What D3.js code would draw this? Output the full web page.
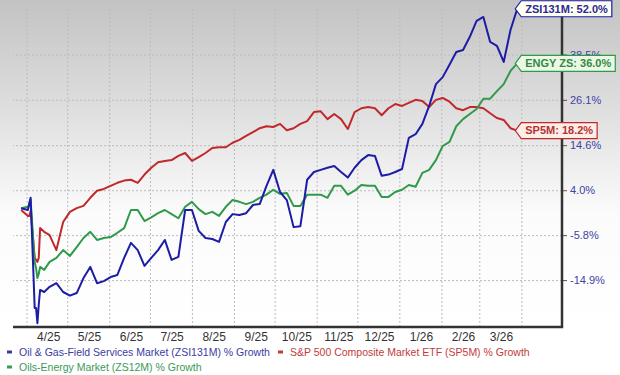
<!DOCTYPE html>
<html>
<head>
<meta charset="utf-8">
<script src="https://cdn.jsdelivr.net/npm/d3@7"></script>
<style>
  html, body { margin: 0; padding: 0; background: #fff; }
  svg { display: block; font-family: "Liberation Sans", Arial, sans-serif; }
</style>
</head>
<body>
<svg id="chart" width="620" height="375"></svg>
<script>
// ---- data (% growth) ----
const dates = [
  "2025-03-28","2025-04-02","2025-04-03","2025-04-04","2025-04-07","2025-04-08","2025-04-09","2025-04-10",
  "2025-04-11","2025-04-14","2025-04-18","2025-04-23","2025-04-28","2025-05-03","2025-05-08","2025-05-13",
  "2025-05-18","2025-05-23","2025-05-28","2025-06-02","2025-06-07","2025-06-12","2025-06-17","2025-06-22",
  "2025-06-27","2025-07-02","2025-07-07","2025-07-12","2025-07-17","2025-07-22","2025-07-27","2025-08-01",
  "2025-08-06","2025-08-11","2025-08-16","2025-08-21","2025-08-26","2025-08-31","2025-09-05","2025-09-10",
  "2025-09-15","2025-09-20","2025-09-25","2025-09-30","2025-10-05","2025-10-10","2025-10-15","2025-10-20",
  "2025-10-25","2025-10-30","2025-11-04","2025-11-09","2025-11-14","2025-11-19","2025-11-24","2025-11-29",
  "2025-12-04","2025-12-09","2025-12-14","2025-12-19","2025-12-24","2025-12-29","2026-01-03","2026-01-08",
  "2026-01-13","2026-01-18","2026-01-23","2026-01-28","2026-02-02","2026-02-07","2026-02-12","2026-02-17",
  "2026-02-22","2026-02-27","2026-03-04","2026-03-09","2026-03-14","2026-03-19","2026-03-24","2026-03-29"
];

const oilGas = [ // ZSI131M
  0.0, -0.4, 1.1, 2.3, -20.2, -20.2, -23.0, -19.6,
  -16.8, -17.2, -16.2, -15.5, -17.2, -17.9, -17.4, -14.5,
  -12.3, -15.5, -15.1, -14.3, -13.9, -10.5, -7.4, -8.9,
  -12.1, -10.5, -8.9, -6.8, -10.9, -10.3, -0.4, -0.4,
  -4.9, -6.4, -6.6, -7.2, -3.0, -1.3, -1.5, -1.1,
  0.7, 0.9, 5.0, 8.7, 3.6, 1.8, -4.1, -3.9,
  6.4, 8.2, 8.7, 9.2, 9.6, 8.2, 6.9, 9.2,
  11.0, 12.2, 12.0, 7.3, 7.6, 8.2, 8.9, 16.4,
  17.3, 19.9, 24.5, 30.3, 32.2, 35.6, 39.2, 39.8,
  43.6, 48.3, 49.5, 42.1, 41.0, 36.4, 45.6, 52.0
];

const sp500 = [ // SP5M
  -0.4, -1.7, -1.7, -0.6, -10.5, -10.9, -11.3, -10.5,
  -4.3, -5.1, -5.8, -8.9, -3.0, -0.8, 0.0, 0.5,
  2.3, 3.9, 4.3, 5.0, 5.7, 6.2, 6.4, 5.7,
  7.6, 9.2, 10.5, 10.8, 11.0, 12.0, 12.7, 10.8,
  11.7, 12.7, 13.9, 14.1, 14.1, 15.2, 15.9, 16.9,
  17.8, 18.8, 19.3, 19.1, 19.9, 18.3, 18.8, 19.9,
  20.6, 22.9, 23.1, 21.1, 22.4, 21.1, 18.6, 22.9,
  23.9, 24.2, 23.9, 22.1, 23.9, 25.0, 24.5, 25.3,
  26.1, 25.8, 24.2, 26.1, 26.6, 25.6, 23.9, 23.4,
  24.2, 24.2, 23.9, 22.6, 21.4, 20.9, 18.8, 18.2
];

const oilsEnergy = [ // ZS12M
  0.0, 0.3, 0.5, 1.8, -11.3, -12.5, -14.5, -13.7,
  -12.3, -12.9, -11.3, -10.5, -8.9, -10.1, -8.3, -6.4,
  -5.1, -6.8, -6.4, -6.2, -5.3, -4.3, -0.4, -0.4,
  -2.8, -2.0, -1.1, -0.4, -1.3, -2.2, 0.3, 1.4,
  -0.2, -1.3, -0.8, -1.7, 0.3, 1.8, 1.4, 0.9,
  1.4, 2.3, 3.0, 4.1, 3.2, 3.4, 0.5, 0.5,
  3.0, 3.0, 3.0, 2.3, 5.0, 5.0, 3.0, 3.9,
  5.2, 5.0, 5.0, 2.5, 2.5, 3.6, 4.1, 5.2,
  4.8, 8.0, 8.7, 11.0, 14.4, 15.4, 19.3, 21.1,
  22.4, 23.7, 26.4, 26.4, 28.4, 30.3, 33.9, 36.0
];

const yTicks = [38.5, 26.1, 14.6, 4.0, -5.8, -14.9];
const xTickLabels = ["4/25","5/25","6/25","7/25","8/25","9/25","10/25","11/25","12/25","1/26","2/26","3/26"];
const tagNames = ["SP5M", "ENGY ZS", "ZSI131M"];
const legendLabels = [
  "Oil & Gas-Field Services Market (ZSI131M) % Growth",
  "S&P 500 Composite Market ETF (SP5M) % Growth",
  "Oils-Energy Market (ZS12M) % Growth"
];

// ---- setup ----
const svg = d3.select("#chart");
const parse = d3.timeParse("%Y-%m-%d");
const L = 13, R = 562, T = 8, B = 327;  // plot box
const BASE = 132;                       // zacks log scale is on (BASE + growth)

const x = d3.scaleTime().domain([parse("2025-03-22"), parse("2026-05-01")]).range([L, R]);
const y = d3.scaleLog().domain([BASE - 23.7, BASE + 54.7]).range([B, 0]);
const yv = v => y(BASE + v);

// background gradient (grey on top, fading to white)
const defs = svg.append("defs");
const grad = defs.append("linearGradient").attr("id", "bg").attr("x1", 0).attr("y1", 0).attr("x2", 0).attr("y2", 1);
grad.append("stop").attr("offset", "0%").attr("stop-color", "#c3c3c3");
grad.append("stop").attr("offset", "35%").attr("stop-color", "#e0e0e0");
grad.append("stop").attr("offset", "65%").attr("stop-color", "#fbfbfb");
grad.append("stop").attr("offset", "100%").attr("stop-color", "#ffffff");
svg.append("rect").attr("width", 620).attr("height", B).attr("fill", "url(#bg)");

// ---- grid ----
const monthStarts = d3.timeMonth.range(parse("2025-04-01"), parse("2026-04-02"));
const vGrid = svg.append("g").attr("transform", `translate(0,${B})`)
  .call(d3.axisBottom(x).tickValues(monthStarts).tickSize(-(B - T)).tickFormat(""));
const hGrid = svg.append("g").attr("transform", `translate(${R},0)`)
  .call(d3.axisLeft(y).tickValues(yTicks.map(v => BASE + v)).tickSize(R - L).tickFormat(""));
[vGrid, hGrid].forEach(g => {
  g.select(".domain").remove();
  g.selectAll("line").attr("stroke", "#bcbcbc").attr("stroke-dasharray", "2,2");
});

// ---- lines ----
const series = [
  { vals: sp500, color: "#c0282b", tagFill: "#fdeee8", tagText: "#b83232" },
  { vals: oilsEnergy, color: "#2e9a4a", tagFill: "#ebf8e6", tagText: "#2f8a40" },
  { vals: oilGas, color: "#1c1ca6", tagFill: "#fffff2", tagText: "#2a2a96" }
];
const line = d3.line().x(d => x(d.date)).y(d => yv(d.v));
series.forEach(s => {
  s.pts = dates.map((d, i) => ({ date: parse(d), v: s.vals[i] }));
  svg.append("path").datum(s.pts)
    .attr("fill", "none").attr("stroke", s.color).attr("stroke-width", 2)
    .attr("stroke-linejoin", "round").attr("d", line);
});

// ---- axes ----
const labelDates = monthStarts.slice(0, 12).map(d => d3.timeDay.offset(d, 16)); // labels sit mid-month
const xAxis = svg.append("g").attr("transform", `translate(0,${B})`)
  .call(d3.axisBottom(x).tickValues(labelDates).tickSize(0).tickPadding(5)
    .tickFormat((d, i) => xTickLabels[i]));
xAxis.select(".domain").remove();
xAxis.selectAll("text").attr("fill", "#333").style("font-size", "12px");

const yAxis = svg.append("g").attr("transform", `translate(${R},0)`)
  .call(d3.axisRight(y).tickValues(yTicks.map(v => BASE + v)).tickSize(5).tickPadding(3)
    .tickFormat(d => (d - BASE).toFixed(1) + "%"));
yAxis.select(".domain").remove();
yAxis.selectAll("line").attr("stroke", "#555");
yAxis.selectAll("text").attr("fill", "#4242a4").style("font-size", "11px");

svg.append("path") // frame: bottom + right edge
  .attr("d", `M${L},${B}H${R}V${T}`)
  .attr("fill", "none").attr("stroke", "#333").attr("stroke-width", 2.5);

// ---- end tags ----
series.forEach((s, i) => {
  const last = s.pts[s.pts.length - 1];
  const tx = x(last.date) - 2, ty = yv(last.v);
  const g = svg.append("g");
  const t = g.append("text").attr("x", tx + 10).attr("y", ty).attr("dy", "0.35em")
    .attr("fill", s.tagText).style("font-size", "11px").style("font-weight", "bold")
    .text(`${tagNames[i]}: ${last.v.toFixed(1)}%`);
  const w = t.node().getComputedTextLength() + 14, h = 16;
  g.insert("path", "text")
    .attr("d", `M${tx},${ty} L${tx + 6},${ty - h / 2} H${tx + w} V${ty + h / 2} H${tx + 6} Z`)
    .attr("fill", s.tagFill).attr("stroke", s.color).attr("stroke-width", 1.2);
});

// ---- legend ----
const legend = [
  { x: 7, y: 352, text: legendLabels[0], color: "#3b3ba2" },
  { x: 278, y: 352, text: legendLabels[1], color: "#c03c3c" },
  { x: 7, y: 367, text: legendLabels[2], color: "#3a9a58" }
];
legend.forEach(d => {
  svg.append("rect").attr("x", d.x).attr("y", d.y - 1.5).attr("width", 5).attr("height", 3).attr("fill", d.color);
  svg.append("text").attr("x", d.x + 12).attr("y", d.y).attr("dy", "0.35em")
    .attr("fill", d.color).style("font-size", "10.5px").text(d.text);
});
</script>
</body>
</html>
